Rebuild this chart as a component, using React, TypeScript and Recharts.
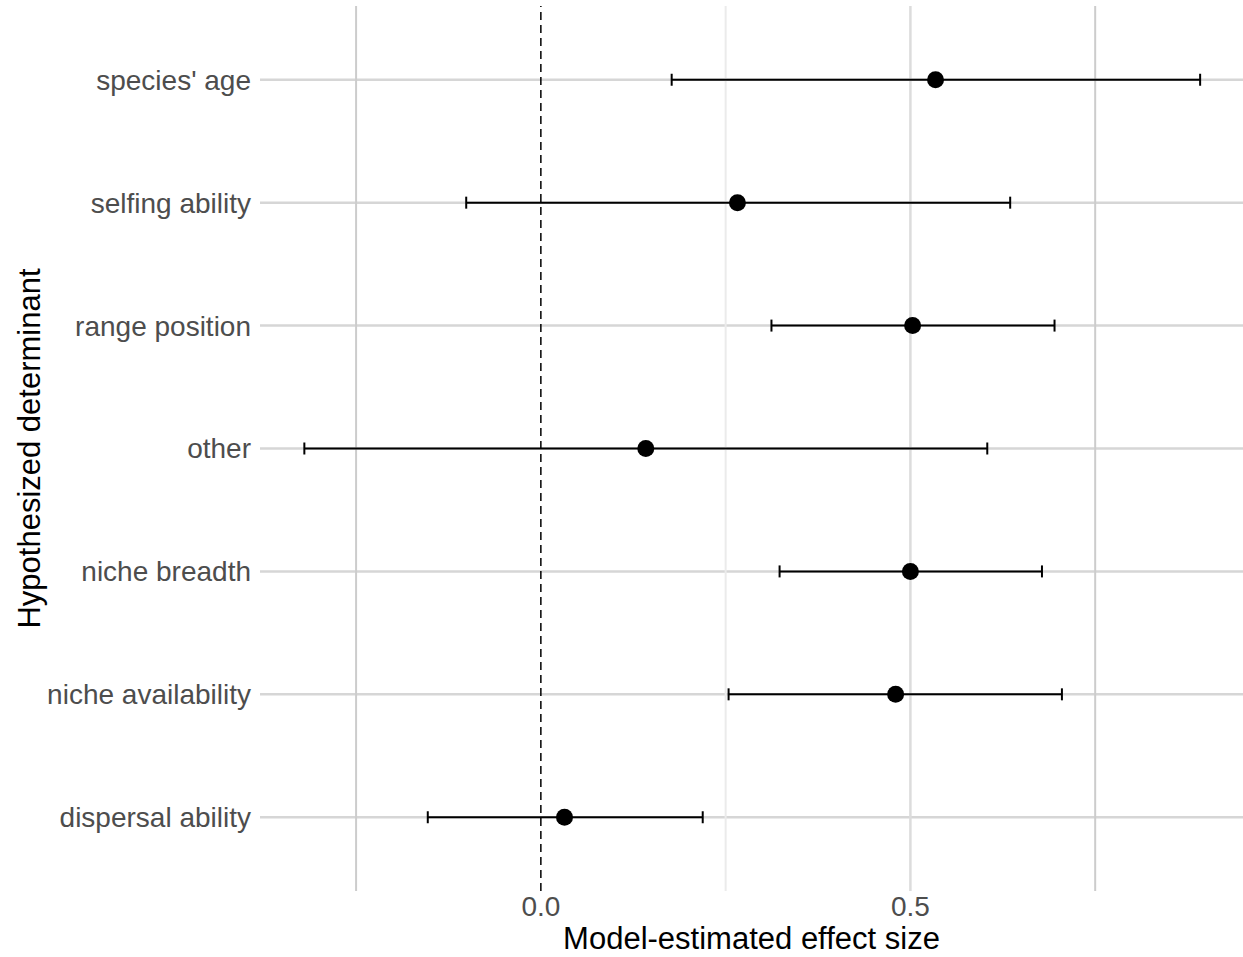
import { ScatterChart, Scatter, XAxis, YAxis, CartesianGrid, ReferenceLine, ErrorBar, Label } from 'recharts';

// categories top to bottom
const determinants = [
  "species' age",
  'selfing ability',
  'range position',
  'other',
  'niche breadth',
  'niche availability',
  'dispersal ability',
];

// model estimates and 95% interval bounds, same order
const estimates = [0.534, 0.266, 0.503, 0.142, 0.500, 0.480, 0.032];
const lowerBounds = [0.177, -0.101, 0.312, -0.320, 0.323, 0.254, -0.153];
const upperBounds = [0.892, 0.635, 0.695, 0.604, 0.678, 0.705, 0.219];

const xTicks = [0, 0.5];
const yPositions = [1, 2, 3, 4, 5, 6, 7];
const FONT = '"Liberation Sans", Arial, Helvetica, sans-serif';

// top category gets highest position on the numeric y scale
const data = determinants.map((name, i) => ({
  name,
  pos: determinants.length - i,
  est: estimates[i],
  err: [estimates[i] - lowerBounds[i], upperBounds[i] - estimates[i]],
}));

const labelFor = (pos: number) => determinants[determinants.length - pos] ?? '';

export default function App() {
  return (
    <div style={{ position: 'absolute', left: 0, top: 0, background: '#fff' }}>
      <ScatterChart
        width={1243}
        height={957}
        margin={{ top: 6, right: 0, bottom: 0, left: 0 }}
        style={{ fontFamily: FONT }}
      >
        {/* horizontal major grid, one line per category */}
        <CartesianGrid vertical={false} horizontalValues={yPositions} stroke="#d6d6d6" strokeWidth={2.5} />
        {/* vertical grid lines, slightly different greys as in the original */}
        <CartesianGrid horizontal={false} verticalValues={[-0.25, 0.75]} stroke="#cccccc" strokeWidth={2} />
        <CartesianGrid horizontal={false} verticalValues={[0.25]} stroke="#ebebeb" strokeWidth={2} />
        <CartesianGrid horizontal={false} verticalValues={[0.5]} stroke="#dcdcdc" strokeWidth={2.5} />
        <XAxis
          type="number"
          dataKey="est"
          domain={[-0.38, 0.95]}
          ticks={xTicks}
          allowDataOverflow
          tickFormatter={(v: number) => v.toFixed(1)}
          axisLine={false}
          tickLine={false}
          tickSize={0}
          tickMargin={5}
          height={66}
          tick={{ fontSize: 28, fill: '#4d4d4d', fontFamily: FONT }}
        >
          <Label
            content={({ viewBox }: any) => (
              <text
                x={viewBox.x + viewBox.width / 2}
                y={viewBox.y + 58}
                textAnchor="middle"
                fontSize={31}
                fill="#000"
                fontFamily={FONT}
              >
                Model-estimated effect size
              </text>
            )}
          />
        </XAxis>
        <YAxis
          type="number"
          dataKey="pos"
          domain={[0.4, 7.6]}
          ticks={yPositions}
          tickFormatter={labelFor}
          axisLine={false}
          tickLine={false}
          tickSize={0}
          tickMargin={9}
          width={260}
          tick={{ fontSize: 28, fill: '#4d4d4d', fontFamily: FONT }}
        >
          <Label
            content={({ viewBox }: any) => {
              const cx = viewBox.x + 40;
              const cy = viewBox.y + viewBox.height / 2;
              return (
                <text
                  x={cx}
                  y={cy}
                  textAnchor="middle"
                  fontSize={31}
                  fill="#000"
                  fontFamily={FONT}
                  transform={`rotate(-90 ${cx} ${cy})`}
                >
                  Hypothesized determinant
                </text>
              );
            }}
          />
        </YAxis>
        <ReferenceLine x={0} stroke="#000" strokeWidth={1.5} strokeDasharray="8 5" />
        <Scatter data={data} fill="#000" isAnimationActive={false} shape={(p: any) => <circle cx={p.cx} cy={p.cy} r={8.5} fill="#000" />}>
          <ErrorBar dataKey="err" direction="x" width={6} stroke="#000" strokeWidth={2} />
        </Scatter>
      </ScatterChart>
    </div>
  );
}
